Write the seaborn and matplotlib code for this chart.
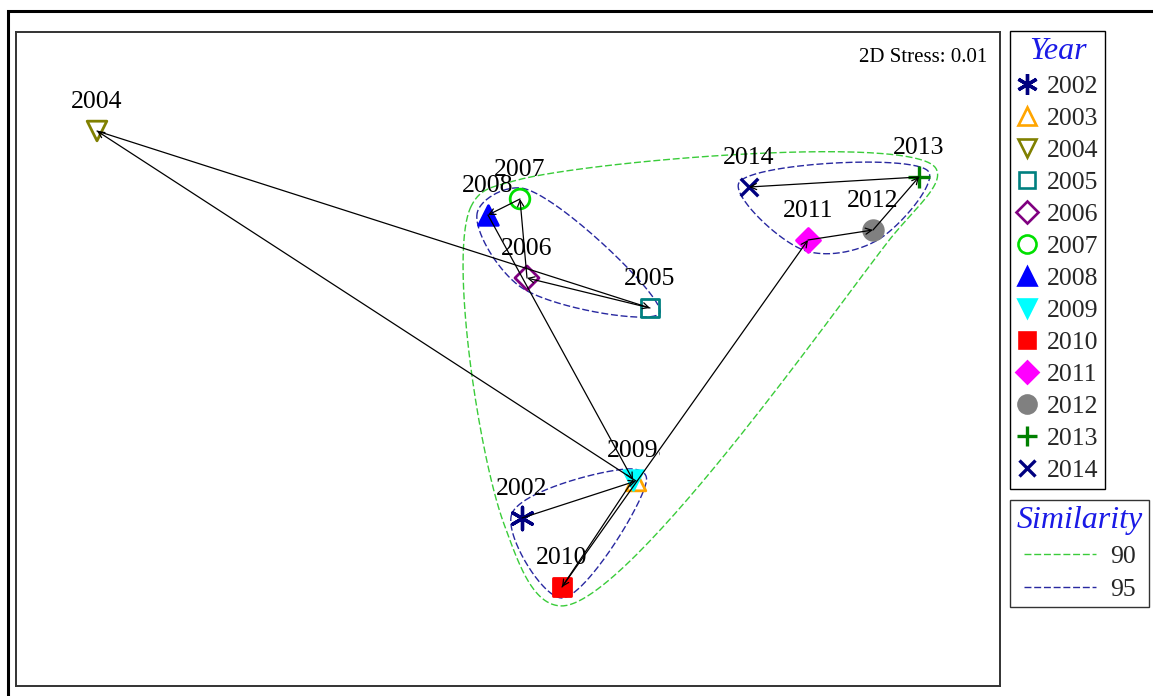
import numpy as np
import pandas as pd
import seaborn as sns
import matplotlib
matplotlib.use("Agg")
import matplotlib.pyplot as plt
from matplotlib.lines import Line2D
from matplotlib.patches import Rectangle

# ---------------- data ----------------
years = [2002, 2003, 2004, 2005, 2006, 2007, 2008, 2009, 2010, 2011, 2012, 2013, 2014]
mds_x = [0.13, 1.27, -4.12, 1.41, 0.18, 0.11, -0.21, 1.24, 0.53, 2.99, 3.64, 4.10, 2.40]
mds_y = [-1.58, -1.21, 2.29, 0.52, 0.82, 1.61, 1.45, -1.20, -2.27, 1.20, 1.30, 1.83, 1.73]
year_colors = ["#000080", "#FFA500", "#808000", "#008080", "#800080", "#00E000", "#0000FF",
               "#00FFFF", "#FF0000", "#FF00FF", "#808080", "#008000", "#000080"]
year_markers = [(6, 2, 0), "^", "v", "s", "D", "o", "^", "v", "s", "D", "o", "+", "x"]
year_filled = [True, False, False, False, False, False, True, True, True, True, True, True, True]
groups_95 = [[2005, 2006, 2007, 2008], [2002, 2003, 2009, 2010], [2011, 2012, 2013, 2014]]
groups_90 = [[2002, 2003, 2005, 2006, 2007, 2008, 2009, 2010, 2011, 2012, 2013, 2014]]
similarity_levels = ["90", "95"]
similarity_colors = ["#3ACC3A", "#2828A0"]
stress_text = "2D Stress: 0.01"

df = pd.DataFrame({"year": years, "x": mds_x, "y": mds_y})

# ---------------- helpers ----------------
def convex_hull(pts):
    pts = sorted(map(tuple, pts))
    if len(pts) <= 2:
        return np.array(pts)
    def cross(o, a, b):
        return (a[0]-o[0])*(b[1]-o[1]) - (a[1]-o[1])*(b[0]-o[0])
    lower, upper = [], []
    for p in pts:
        while len(lower) >= 2 and cross(lower[-2], lower[-1], p) <= 0:
            lower.pop()
        lower.append(p)
    for p in reversed(pts):
        while len(upper) >= 2 and cross(upper[-2], upper[-1], p) <= 0:
            upper.pop()
        upper.append(p)
    return np.array(lower[:-1] + upper[:-1])

def pad_hull(h, pad):
    n = len(h)
    out = []
    for i in range(n):
        p_prev, p, p_next = h[i-1], h[i], h[(i+1) % n]
        e1 = p - p_prev
        e2 = p_next - p
        n1 = np.array([e1[1], -e1[0]]) / np.linalg.norm(e1)
        n2 = np.array([e2[1], -e2[0]]) / np.linalg.norm(e2)
        b = n1 + n2
        b = b / np.linalg.norm(b)
        out.append(p + pad * b)
    return np.array(out)

def catmull_rom_closed(P, n=60, alpha=0.5):
    m = len(P)
    curve = []
    for i in range(m):
        p0, p1, p2, p3 = P[i-1], P[i], P[(i+1) % m], P[(i+2) % m]
        t0 = 0.0
        t1 = t0 + np.linalg.norm(p1-p0)**alpha
        t2 = t1 + np.linalg.norm(p2-p1)**alpha
        t3 = t2 + np.linalg.norm(p3-p2)**alpha
        t = np.linspace(t1, t2, n)[:, None]
        a1 = (t1-t)/(t1-t0)*p0 + (t-t0)/(t1-t0)*p1
        a2 = (t2-t)/(t2-t1)*p1 + (t-t1)/(t2-t1)*p2
        a3 = (t3-t)/(t3-t2)*p2 + (t-t2)/(t3-t2)*p3
        b1 = (t2-t)/(t2-t0)*a1 + (t-t0)/(t2-t0)*a2
        b2 = (t3-t)/(t3-t1)*a2 + (t-t1)/(t3-t1)*a3
        c = (t2-t)/(t2-t1)*b1 + (t-t1)/(t2-t1)*b2
        curve.append(c)
    curve = np.vstack(curve)
    return np.vstack([curve, curve[:1]])

def contour_for(group, pad):
    sub = df[df["year"].isin(group)][["x", "y"]].to_numpy()
    h = convex_hull(sub)
    h = pad_hull(h, pad)
    return catmull_rom_closed(h)

# ---------------- figure ----------------
sns.set_theme(style="white")
plt.rcParams["font.family"] = ["Liberation Serif", "DejaVu Serif"]

W, H = 1153, 696
fig = plt.figure(figsize=(W/100, H/100), dpi=100)
ax = fig.add_axes([16/W, 1-686/H, (1000-16)/W, (686-32)/H])
ax.set_xlim(-4.93, 4.91)
ax.set_ylim(-3.26, 3.28)
ax.set_xticks([])
ax.set_yticks([])
ax.set_xlabel("")
ax.set_ylabel("")
for sp in ax.spines.values():
    sp.set_color("#333333")
    sp.set_linewidth(1.4)

# outer border
fig.patches.append(Rectangle((8/W, -0.05), 1.1, 1-11/H+0.05, transform=fig.transFigure,
                             fill=False, edgecolor="black", linewidth=2.2))

# similarity contours
for grp in groups_90:
    c = contour_for(grp, 0.19)
    ax.plot(c[:, 0], c[:, 1], color=similarity_colors[0], lw=1.0, ls=(0, (5, 2)), zorder=2)
for grp in groups_95:
    c = contour_for(grp, 0.11)
    ax.plot(c[:, 0], c[:, 1], color=similarity_colors[1], lw=1.0, ls=(0, (5, 2)), zorder=3)

# markers
for yr, xv, yv, col, mk, fl in zip(years, mds_x, mds_y, year_colors, year_markers, year_filled):
    is_line = mk in ("+", "x") or isinstance(mk, tuple)
    size = 200 if mk in ("o", "^", "v") else 150
    if isinstance(mk, tuple) or mk == "+":
        size = 260
    if mk == "x":
        size = 160
    kws = dict(color=col, edgecolor=col, linewidth=2.4 if is_line else 2.0, s=size, zorder=5)
    if not fl:
        kws["facecolor"] = "none"
    sns.scatterplot(x=[xv], y=[yv], marker=mk, ax=ax, legend=False, **kws)

# trajectory arrows
for i in range(len(years)-1):
    ax.annotate("", xy=(mds_x[i+1], mds_y[i+1]), xytext=(mds_x[i], mds_y[i]),
                arrowprops=dict(arrowstyle="->", color="black", lw=0.9,
                                shrinkA=0, shrinkB=0, mutation_scale=11),
                zorder=6)

# point labels
for yr, xv, yv in zip(years, mds_x, mds_y):
    extra = {}
    if yr == 2009:
        extra["bbox"] = dict(boxstyle="square,pad=0.0", facecolor="white", edgecolor="none")
    ax.annotate(str(yr), (xv, yv), xytext=(0, 21), textcoords="offset points",
                ha="center", va="center", fontsize=18.5, color="black", zorder=4 if yr == 2009 else 3.5,
                **extra)

ax.text(0.9875, 0.975, stress_text, transform=ax.transAxes, ha="right", va="top",
        fontsize=15, color="black")

# legends
year_handles = []
for yr, col, mk, fl in zip(years, year_colors, year_markers, year_filled):
    is_line = mk in ("+", "x") or isinstance(mk, tuple)
    ms = 13 if mk in ("o", "^", "v") else 11
    if is_line:
        ms = 15
    if mk == "x":
        ms = 12
    year_handles.append(Line2D([], [], linestyle="none", marker=mk, markersize=ms,
                               markerfacecolor=(col if fl else "none"), markeredgecolor=col,
                               markeredgewidth=2.4 if is_line else 1.9, color=col))
leg1 = fig.legend(year_handles, [str(y) for y in years], loc="upper left",
                  bbox_to_anchor=(1010/W, 1-31/H), bbox_transform=fig.transFigure,
                  borderaxespad=0, fontsize=18.5, frameon=True, fancybox=False,
                  handlelength=0.8, handletextpad=0.4, labelspacing=0.35,
                  borderpad=0.25, title="Year",
                  title_fontproperties={"size": 23, "style": "italic", "family": "Liberation Serif"})
leg1.get_title().set_color("#1A1AE6")
leg1.get_frame().set_edgecolor("black")
leg1.get_frame().set_linewidth(1.0)
leg1.get_frame().set_alpha(1)

sim_handles = [Line2D([], [], color=c, lw=1.0, ls=(0, (5, 2))) for c in similarity_colors]
leg2 = fig.legend(sim_handles, similarity_levels, loc="upper left",
                  bbox_to_anchor=(1010/W, 1-500/H), bbox_transform=fig.transFigure,
                  borderaxespad=0, fontsize=18.5, frameon=True, fancybox=False,
                  handlelength=2.8, handletextpad=0.55, labelspacing=0.38,
                  borderpad=0.25, title="Similarity",
                  title_fontproperties={"size": 23, "style": "italic", "family": "Liberation Serif"})
leg2.get_title().set_color("#1A1AE6")
leg2.get_frame().set_edgecolor("black")
leg2.get_frame().set_linewidth(1.0)

fig.savefig("out.png", dpi=100, facecolor="white")
